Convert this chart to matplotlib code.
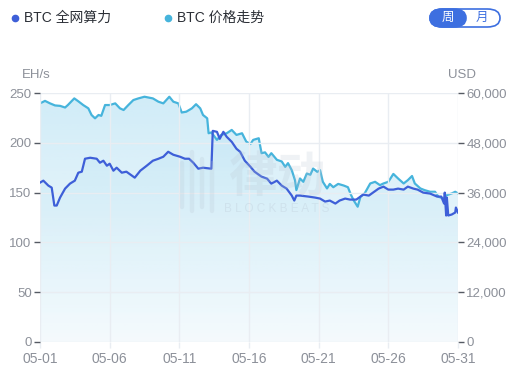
import numpy as np
import matplotlib
matplotlib.use("Agg")
import matplotlib.pyplot as plt
from matplotlib.colors import to_rgb
from matplotlib.patches import FancyBboxPatch
from matplotlib.ticker import FuncFormatter

plt.rcParams['font.family'] = ['Liberation Sans', 'Noto Sans CJK SC', 'DejaVu Sans']

# x = day offset from 05-01
hash_days = [0, 0.24, 0.6, 0.84, 1.03, 1.2, 1.44, 1.8, 2.15, 2.5, 2.75, 3.0, 3.23, 3.6, 4.07,
             4.3, 4.55, 4.8, 5.0, 5.27, 5.5, 5.87, 6.2, 6.8, 7.2, 7.66, 8.1, 8.5, 8.85, 9.2,
             9.57, 10.05, 10.4, 10.7, 11.0, 11.36, 11.7, 12.3, 12.4, 12.7, 12.9, 13.16, 13.4,
             13.76, 14.1, 14.36, 14.7, 15.1, 15.4, 15.9, 16.3, 16.6, 17.0, 17.35, 17.7, 18.07,
             18.25, 18.4, 18.66, 19.26, 19.74, 20.1, 20.46, 20.8, 21.2, 21.5, 21.9, 22.25,
             22.7, 23.2, 23.6, 23.9, 24.3, 24.65, 25.0, 25.36, 25.7, 26.1, 26.4, 26.8, 27.1,
             27.5, 28.0, 28.5, 28.8, 29.0, 29.05, 29.15, 29.2, 29.3, 29.55, 29.8, 29.85, 30.0]
hash_vals = [160, 162, 157, 155, 137, 137, 145, 154, 159, 162, 170, 171, 184, 185, 184,
             180, 182, 177, 179, 172, 175, 170, 171, 165, 172, 177, 182, 184, 186, 191,
             188, 186, 184, 184, 180, 174, 175, 174, 212, 211, 204, 211, 206,
             201, 194, 191, 182, 176, 171, 166, 164, 159, 162, 157, 154, 147,
             142, 147, 147, 146, 145, 144, 141, 142, 139, 142, 144, 143,
             143, 148, 147, 150, 154, 156, 153, 153, 154, 153, 156, 154, 153,
             150, 149, 146, 146, 139, 150, 127, 145, 127, 128, 130, 135, 130]

price_days = [0, 0.36, 0.72, 1.08, 1.44, 1.8, 2.0, 2.46, 2.75, 3.1, 3.47, 3.7, 3.95, 4.2,
              4.4, 4.67, 5.0, 5.4, 5.74, 6.0, 6.34, 6.7, 7.06, 7.5, 8.1, 8.5, 8.85, 9.28,
              9.57, 9.93, 10.17, 10.5, 10.9, 11.2, 11.5, 11.7, 12.0, 12.1, 12.3, 12.7, 13.0,
              13.4, 13.76, 14.1, 14.5, 14.8, 15.1, 15.3, 15.7, 15.9, 16.15, 16.4, 16.6, 17.0,
              17.35, 17.6, 17.8, 18.07, 18.3, 18.4, 18.66, 18.9, 19.15, 19.4, 19.6, 19.9,
              20.1, 20.3, 20.6, 20.8, 21.05, 21.4, 21.8, 22.1, 22.3, 22.5, 22.8, 23.0, 23.3,
              23.7, 24.05, 24.4, 24.65, 25.0, 25.36, 25.7, 26.1, 26.4, 26.7, 26.9, 27.3,
              27.6, 28.0, 28.35, 28.6, 28.95, 29.2, 29.55, 29.8, 30.0]
price_vals = [57500, 58100, 57500, 57000, 56900, 56500, 57100, 58700, 58000, 57100, 56300,
              54700, 53900, 54700, 54500, 57100, 57100, 57500, 56300, 55900, 57100, 58300,
              58700, 59100, 58700, 57900, 57500, 59100, 57900, 57500, 55300, 55500, 56300,
              57300, 56300, 54700, 53900, 50300, 50500, 48700, 49900, 50300, 51100, 49900,
              50300, 48300, 47700, 48700, 49100, 45500, 45700, 44600, 45500, 43900, 43500,
              42200, 43100, 41400, 39000, 36600, 39400, 38600, 40600, 40300, 41800, 41000,
              41400, 38600, 37000, 38100, 37300, 38100, 37700, 37300, 35600, 34200, 32600,
              35000, 35800, 38200, 38600, 37800, 38200, 38600, 40500, 39400, 38200, 39000,
              40000, 38200, 37000, 36600, 36200, 36200, 35000, 34600, 35400, 35800, 36200,
              35800]

x_ticks = [0, 5, 10, 15, 20, 25, 30]
x_labels = ['05-01', '05-06', '05-11', '05-16', '05-21', '05-26', '05-31']
left_ticks = [0, 50, 100, 150, 200, 250]
right_ticks = [0, 12000, 24000, 36000, 48000, 60000]

hash_color = '#3e5fd8'
price_color = '#46b4dc'
tick_color = '#8c9099'
grid_color = '#e9edf2'
wm_color = '#b8c4d2'


def grad_fill(axis, x, y, top, color, a_bottom, a_top):
    poly = axis.fill_between(x, y, 0, color='none', lw=0)
    path = poly.get_paths()[0]
    n = 256
    rgba = np.zeros((n, 1, 4))
    rgba[..., :3] = to_rgb(color)
    rgba[..., 3] = np.linspace(a_bottom, a_top, n).reshape(-1, 1)
    im = axis.imshow(rgba, aspect='auto', origin='lower',
                     extent=[min(x), max(x), 0, top], zorder=1)
    im.set_clip_path(path, transform=axis.transData)


fig = plt.figure(figsize=(5.31, 3.70), dpi=100)
ax = fig.add_axes([40 / 531, 1 - 342 / 370, 418 / 531, 249 / 370])
ax2 = ax.twinx()
ax.set_zorder(ax2.get_zorder() + 1)
ax.patch.set_visible(False)

# watermark (behind the lines)
fig.text(277 / 531, 1 - 177 / 370, '律动', fontsize=35, color=wm_color, alpha=0.22,
         ha='center', va='center', family=['Noto Sans CJK SC'], fontweight='bold')
fig.text(277 / 531, 1 - 209 / 370, 'B L O C K B E A T S', fontsize=8.5, color=wm_color,
         alpha=0.3, ha='center', va='center')
for i, (lo, hi) in enumerate([(0.44, 0.56), (0.43, 0.59), (0.44, 0.57), (0.43, 0.56)]):
    fig.add_artist(plt.Line2D([(182 + i * 10) / 531] * 2, [lo, hi], color=wm_color,
                              alpha=0.22, lw=3.2, solid_capstyle='round'))

# price on right axis
grad_fill(ax2, price_days, price_vals, 60000, '#6cc3e8', 0.05, 0.32)
ax2.plot(price_days, price_vals, color=price_color, lw=1.6, zorder=3)
ax2.set_ylim(0, 60000)
ax2.set_xlim(0, 30)

# hash rate on left axis
grad_fill(ax, hash_days, hash_vals, 250, '#6cc3e8', 0.02, 0.12)
ax.plot(hash_days, hash_vals, color=hash_color, lw=1.6, zorder=4)
ax.set_ylim(0, 250)
ax.set_xlim(0, 30)

ax.set_xticks(x_ticks)
ax.set_xticklabels(x_labels)
ax.set_yticks(left_ticks)
ax2.set_yticks(right_ticks)
ax2.yaxis.set_major_formatter(FuncFormatter(lambda v, p: f'{int(v):,}'))

ax.grid(True, color=grid_color, lw=1, zorder=0)
for a in (ax, ax2):
    for s in a.spines.values():
        s.set_visible(False)
ax.tick_params(axis='y', colors='#555a63', labelcolor=tick_color, labelsize=9.5,
               length=4, width=1, pad=2)
ax.tick_params(axis='x', colors=grid_color, labelcolor=tick_color, labelsize=10,
               length=4, width=1, pad=3)
ax2.tick_params(axis='y', colors='#555a63', labelcolor=tick_color, labelsize=9.5,
                length=4, width=1, pad=2)

# legend
y_leg = 1 - 18 / 370
fig.add_artist(plt.Line2D([15 / 531], [y_leg], marker='o', ms=4.5, color=hash_color, lw=0))
fig.text(24 / 531, y_leg, 'BTC 全网算力', color='#2b2f36', fontsize=10,
         ha='left', va='center')
fig.add_artist(plt.Line2D([168 / 531], [y_leg], marker='o', ms=4.5, color=price_color, lw=0))
fig.text(177 / 531, y_leg, 'BTC 价格走势', color='#2b2f36', fontsize=10,
         ha='left', va='center')

# 周 / 月 toggle
pill = FancyBboxPatch((430 / 531, 1 - 27 / 370), 70 / 531, 18 / 370,
                      boxstyle='round,pad=0,rounding_size=0.024', transform=fig.transFigure,
                      facecolor='white', edgecolor='#3d6fe0', lw=1.2)
fig.add_artist(pill)
left_half = FancyBboxPatch((430 / 531, 1 - 27 / 370), 36 / 531, 18 / 370,
                           boxstyle='round,pad=0,rounding_size=0.024', transform=fig.transFigure,
                           facecolor='#3d6fe0', edgecolor='#3d6fe0', lw=1.2)
fig.add_artist(left_half)
fig.text(448 / 531, 1 - 18 / 370, '周', color='white', fontsize=9, ha='center', va='center')
fig.text(482 / 531, 1 - 18 / 370, '月', color='#3d6fe0', fontsize=9, ha='center', va='center')

# units
fig.text(22 / 531, 1 - 75 / 370, 'EH/s', color=tick_color, fontsize=9.5, ha='left', va='center')
fig.text(448 / 531, 1 - 75 / 370, 'USD', color=tick_color, fontsize=9.5, ha='left', va='center')

fig.savefig('out.png', dpi=100)
